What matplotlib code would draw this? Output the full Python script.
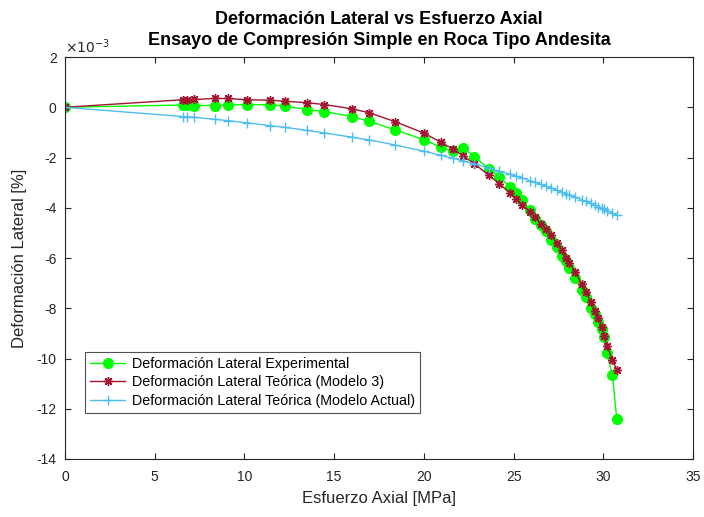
import numpy as np
import matplotlib
matplotlib.use("Agg")
import matplotlib.pyplot as plt
from matplotlib.ticker import FuncFormatter

plt.rcParams['font.family'] = ['Liberation Sans', 'DejaVu Sans']
plt.rcParams['axes.unicode_minus'] = False

# Esfuerzo axial [MPa]
esfuerzo = [0.00, 6.59, 6.82, 7.21, 8.36, 9.07, 10.14, 11.44, 12.26, 13.51,
            14.44, 15.98, 16.96, 18.39, 20.01, 20.94, 21.64, 22.20, 22.80, 23.63,
            24.21, 24.80, 25.14, 25.46, 25.92, 26.20, 26.53, 26.80, 27.09, 27.41,
            27.69, 27.93, 28.11, 28.43, 28.80, 29.04, 29.30, 29.54, 29.73, 29.92,
            30.06, 30.20, 30.51, 30.75]

# Deformación lateral [% x 1e-3]
def_experimental = [0.00, 0.09, 0.08, 0.07, 0.07, 0.09, 0.11, 0.10, 0.05, -0.09,
                    -0.17, -0.37, -0.56, -0.90, -1.29, -1.59, -1.76, -1.61, -1.96, -2.45,
                    -2.78, -3.17, -3.41, -3.70, -4.10, -4.43, -4.69, -4.93, -5.29, -5.56,
                    -5.91, -6.11, -6.41, -6.81, -7.27, -7.56, -7.98, -8.24, -8.53, -8.83,
                    -9.13, -9.79, -10.67, -12.39]

def_modelo3 = [0.00, 0.30, 0.30, 0.31, 0.35, 0.35, 0.30, 0.28, 0.24, 0.18,
               0.11, -0.06, -0.22, -0.57, -1.03, -1.39, -1.67, -1.94, -2.24, -2.71,
               -3.04, -3.42, -3.66, -3.88, -4.15, -4.38, -4.63, -4.86, -5.10, -5.40,
               -5.70, -5.98, -6.18, -6.55, -7.05, -7.35, -7.75, -8.10, -8.40, -8.75,
               -9.10, -9.50, -10.05, -10.47]

def_actual = [0.00, -0.37, -0.38, -0.40, -0.48, -0.53, -0.62, -0.73, -0.80, -0.92,
              -1.02, -1.19, -1.30, -1.50, -1.75, -1.91, -2.03, -2.14, -2.25, -2.42,
              -2.54, -2.66, -2.74, -2.81, -2.92, -2.99, -3.07, -3.14, -3.21, -3.30,
              -3.37, -3.44, -3.49, -3.58, -3.68, -3.75, -3.83, -3.90, -3.96, -4.02,
              -4.06, -4.11, -4.21, -4.30]

escala = 1e-3
gris = '#262626'

fig = plt.figure(figsize=(7.04, 5.17), dpi=100)
ax = fig.add_axes([0.0923, 0.1122, 0.8921, 0.7775])

ax.plot(esfuerzo, np.array(def_experimental) * escala, '-o', color='#00ff00',
        markersize=7, linewidth=1, label='Deformación Lateral Experimental')
ax.plot(esfuerzo, np.array(def_modelo3) * escala, '-', marker=(8, 2, 0), color='#A2142F',
        markersize=6.5, linewidth=1, label='Deformación Lateral Teórica (Modelo 3)')
ax.plot(esfuerzo, np.array(def_actual) * escala, '-+', color='#4DBEEE',
        markersize=7, linewidth=1, label='Deformación Lateral Teórica (Modelo Actual)')

ax.set_xlim(0, 35)
ax.set_ylim(-14e-3, 2e-3)
ax.set_xticks(np.arange(0, 36, 5))
ax.set_yticks(np.arange(-14e-3, 2.1e-3, 2e-3))

# etiquetas en unidades de 1e-3, el factor va arriba a la izquierda
ax.yaxis.set_major_formatter(FuncFormatter(lambda v, p: '%g' % round(v / escala, 6)))
ax.text(0.0, 1.003, r'$\times10^{-3}$', transform=ax.transAxes, fontsize=10,
        color=gris, ha='left', va='bottom')

ax.tick_params(direction='in', top=True, right=True, length=4, width=0.8,
               labelsize=10, colors=gris)
ax.tick_params(axis='x', pad=8)
ax.tick_params(axis='y', pad=6)
for s in ax.spines.values():
    s.set_color(gris)
    s.set_linewidth(0.8)

ax.set_xlabel('Esfuerzo Axial [MPa]', fontsize=12, color=gris, labelpad=5)
ax.set_ylabel('Deformación Lateral [%]', fontsize=12, color=gris, labelpad=7)
ax.set_title('Deformación Lateral vs Esfuerzo Axial\nEnsayo de Compresión Simple en Roca Tipo Andesita',
             fontsize=13, fontweight='bold', color='black', linespacing=1.3, pad=9)

leg = ax.legend(loc='lower left', bbox_to_anchor=(0.032, 0.114), fontsize=10.3,
                handlelength=2.45, frameon=True, fancybox=False, borderpad=0.35,
                labelspacing=0.33, borderaxespad=0, handletextpad=0.5)
leg.get_frame().set_edgecolor(gris)
leg.get_frame().set_linewidth(0.8)

fig.savefig('out.png', dpi=100)
